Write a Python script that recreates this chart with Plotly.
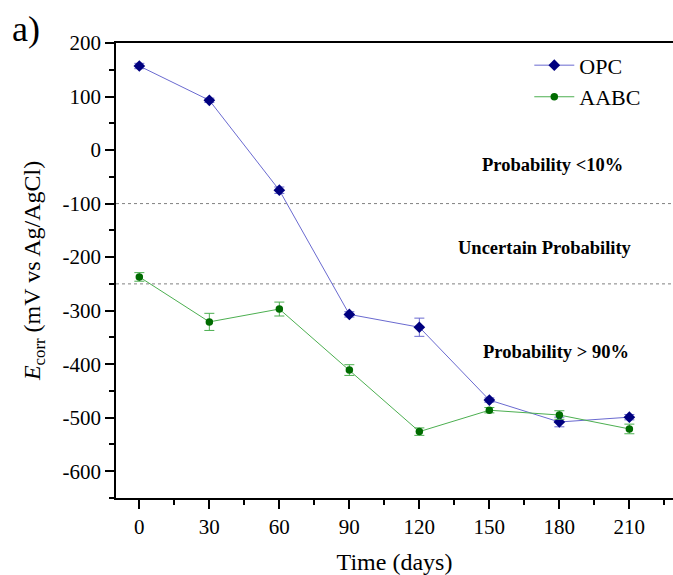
import plotly.graph_objects as go

days = [0, 30, 60, 90, 120, 150, 180, 210]
opc = [157, 93, -75, -307, -331, -467, -508, -499]
opc_err = [5, 4, 6, 5, 17, 4, 9, 5]
aabc = [-237, -321, -297, -411, -526, -486, -495, -521]
aabc_err = [8, 16, 13, 10, 7, 5, 8, 9]
thresholds = [-100, -250]
zone_labels = ["Probability <10%", "Uncertain Probability", "Probability > 90%"]
zone_x = [177, 174, 178.5]
zone_y = [-28, -183, -378]
ytick_vals = [200, 100, 0, -100, -200, -300, -400, -500, -600]
ytick_text = ["200", "100", "0", "-100", "-200", "-300", "-400", "-500", "-600"]

FONT = "Liberation Serif"

fig = go.Figure()
fig.add_trace(go.Scatter(
    x=days, y=opc, name="OPC", mode="lines+markers",
    line=dict(color="#6a6ad0", width=1),
    marker=dict(symbol="diamond", size=9, color="#00007f"),
    error_y=dict(type="data", array=opc_err, color="#6a6ad0", thickness=1, width=5),
))
fig.add_trace(go.Scatter(
    x=days, y=aabc, name="AABC", mode="lines+markers",
    line=dict(color="#4caf50", width=1),
    marker=dict(symbol="circle", size=7.5, color="#006b00"),
    error_y=dict(type="data", array=aabc_err, color="#4caf50", thickness=1, width=5),
))

for t in thresholds:
    fig.add_shape(type="line", xref="paper", x0=0, x1=1, yref="y", y0=t, y1=t,
                  line=dict(color="#808080", width=1, dash="3px,3px"), layer="below")

for lab, xx, yy in zip(zone_labels, zone_x, zone_y):
    fig.add_annotation(x=xx, y=yy, xref="x", yref="y", text="<b>" + lab + "</b>",
                       showarrow=False, font=dict(family=FONT, size=18.5, color="black"))

fig.add_annotation(x=-0.19, y=1.03, xref="paper", yref="paper", text="a)",
                   showarrow=False, xanchor="left", yanchor="middle",
                   font=dict(family=FONT, size=36, color="black"))

fig.update_layout(
    width=673, height=575,
    margin=dict(l=116, r=0, t=43, b=77),
    plot_bgcolor="white", paper_bgcolor="white",
    font=dict(family=FONT, color="black"),
    showlegend=True,
    legend=dict(x=0.742, y=0.997, xanchor="left", yanchor="top",
                font=dict(family=FONT, size=22), bgcolor="rgba(0,0,0,0)",
                tracegroupgap=0, itemwidth=40),
)
fig.update_xaxes(
    range=[-10, 228.7], tickvals=days, ticktext=[str(d) for d in days],
    showline=True, linecolor="black", linewidth=1.5, mirror=True,
    ticks="outside", ticklen=9, tickwidth=1.5, tickcolor="black",
    minor=dict(ticks="outside", ticklen=5, tickwidth=1.5, tickcolor="black", tick0=15, dtick=30),
    showgrid=False, zeroline=False,
    tickfont=dict(family=FONT, size=21),
    title=dict(text="Time (days)", font=dict(family=FONT, size=24), standoff=18),
)
fig.update_yaxes(
    range=[-650, 200], tickvals=ytick_vals, ticktext=ytick_text,
    showline=True, linecolor="black", linewidth=1.5,
    ticks="outside", ticklen=9, tickwidth=1.5, tickcolor="black",
    minor=dict(ticks="outside", ticklen=5, tickwidth=1.5, tickcolor="black", tick0=50, dtick=100),
    showgrid=False, zeroline=False,
    tickfont=dict(family=FONT, size=21),
    title=dict(text="<i>E</i><sub>corr</sub> (mV vs Ag/AgCl)", font=dict(family=FONT, size=24), standoff=15),
)

fig.write_html("out.html")
